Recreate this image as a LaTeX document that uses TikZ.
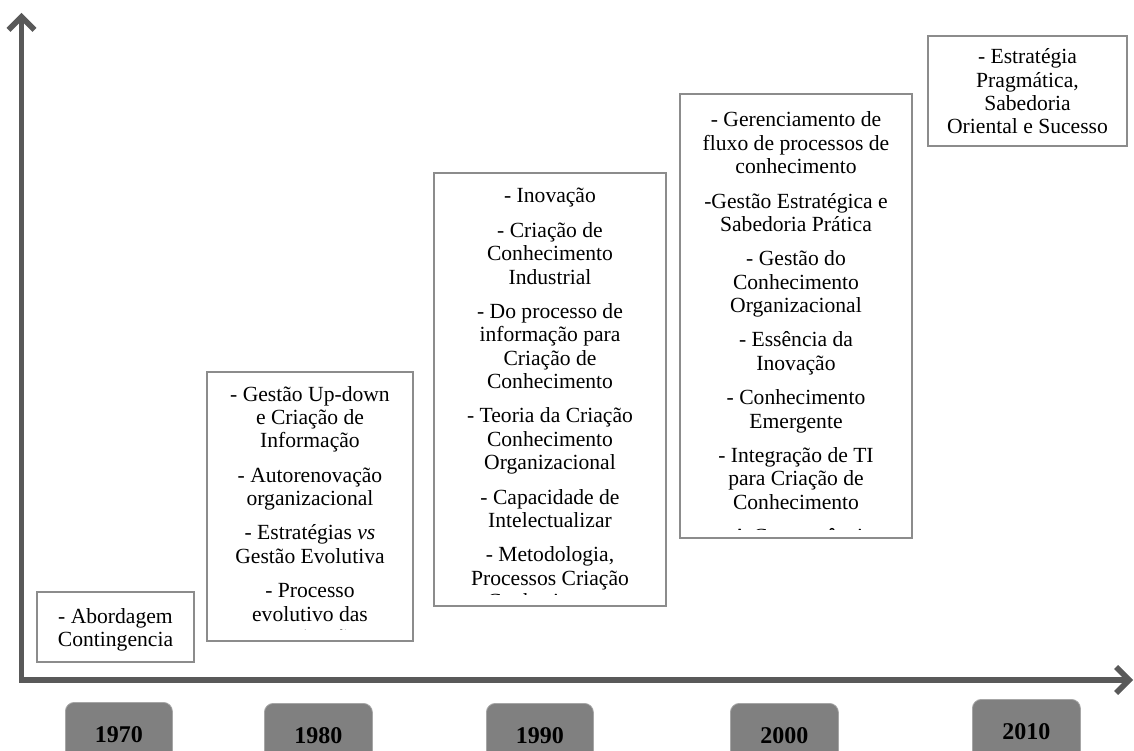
\documentclass[tikz,border=0pt]{standalone}
\usepackage{fontspec}
\setmainfont{Liberation Serif}
\usetikzlibrary{arrows.meta}
\definecolor{axisgray}{HTML}{595959}
\definecolor{boxgray}{HTML}{8C8C8C}
\definecolor{yearfill}{HTML}{808080}
\definecolor{yearedge}{HTML}{A6A6A6}
\newcommand{\boxtext}[2]{\parbox[t]{#1}{\centering\fontsize{21.6}{23.3}\selectfont\setlength{\parskip}{11.2pt}#2}}
\tikzset{
  tbox/.style={draw=boxgray, line width=1.2pt, inner sep=0pt},
  ttext/.style={anchor=base, inner sep=0pt},
  yearbox/.style={draw=yearedge, fill=yearfill, line width=0.8pt, rounded corners=9pt,
    anchor=north west, minimum height=64pt, inner sep=0pt,
    font=\fontsize{24}{26}\selectfont\bfseries},
  axis/.style={draw=axisgray, line width=5.5pt,
    arrows={Straight Barb[length=13pt,width=26pt]-Straight Barb[length=13pt,width=26pt]}}
}
\begin{document}
\begin{tikzpicture}[x=1pt,y=-1pt]
\useasboundingbox (0,0) rectangle (1134,751);
\clip (0,0) rectangle (1134,751);

% axes
\coordinate (ytip) at (21.5,13);
\coordinate (O) at (21.5,680);
\coordinate (xtip) at (1133,680);
\draw[axis] (ytip) -- (O) -- (xtip);

% 1970
\node[tbox, minimum width=157pt, minimum height=70pt] (b1970) at (115.5,627) {};
\node[ttext] (t1970) at (115.5,623) {\boxtext{157pt}{- Abordagem\\Contingencia}};

% 1980
\begin{scope}
\clip (207,372) rectangle (413,629);
\node[ttext] (t1980) at (310,401) {\boxtext{206pt}{%
- Gestão Up-down\\e Criação de\\Informação\par
- Autorenovação\\organizacional\par
- Estratégias \textit{vs}\\Gestão Evolutiva\par
- Processo\\evolutivo das\\organizações}};
\end{scope}
\node[tbox, minimum width=206pt, minimum height=269pt] (b1980) at (310,506.5) {};

% 1990
\begin{scope}
\clip (434,173) rectangle (666,594.5);
\node[ttext] (t1990) at (550,203) {\boxtext{232pt}{%
- Inovação\par
- Criação de\\Conhecimento\\Industrial\par
- Do processo de\\informação para\\Criação de\\Conhecimento\par
- Teoria da Criação\\Conhecimento\\Organizacional\par
- Capacidade de\\Intelectualizar\par
- Metodologia,\\Processos Criação\\Conhecimento}};
\end{scope}
\node[tbox, minimum width=232pt, minimum height=433pt] (b1990) at (550,389.5) {};

% 2000
\begin{scope}
\clip (680,94) rectangle (912,529);
\node[ttext] (t2000) at (796,127) {\boxtext{232pt}{%
- Gerenciamento de\\fluxo de processos de\\conhecimento\par
-Gestão Estratégica e\\Sabedoria Prática\par
- Gestão do\\Conhecimento\\Organizacional\par
- Essência da\\Inovação\par
- Conhecimento\\Emergente\par
- Integração de TI\\para Criação de\\Conhecimento\par
- A Convergência}};
\end{scope}
\node[tbox, minimum width=232pt, minimum height=444pt] (b2000) at (796,316) {};

% 2010
\node[tbox, minimum width=199pt, minimum height=110pt] (b2010) at (1027.5,91) {};
\node[ttext] (t2010) at (1027.5,64) {\boxtext{199pt}{- Estratégia\\Pragmática,\\Sabedoria\\Oriental e Sucesso}};

% years
\node[yearbox, minimum width=107pt] (y1970) at (65,702) {1970};
\node[yearbox, minimum width=108pt] (y1980) at (264,703) {1980};
\node[yearbox, minimum width=107pt] (y1990) at (486,703) {1990};
\node[yearbox, minimum width=108pt] (y2000) at (730,703) {2000};
\node[yearbox, minimum width=108pt] (y2010) at (972,699) {2010};
\end{tikzpicture}
\end{document}
